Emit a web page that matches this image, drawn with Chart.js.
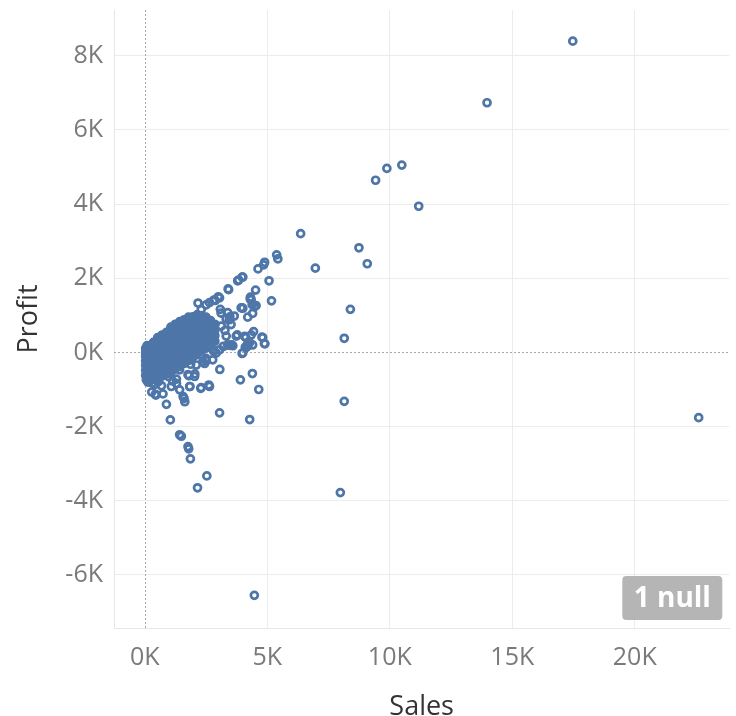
<!DOCTYPE html>
<html>
<head>
<meta charset="utf-8">
<script src="https://cdn.jsdelivr.net/npm/chart.js@4.4.0/dist/chart.umd.min.js"></script>
<style>
  html, body { margin: 0; padding: 0; background: #fff; }
  #wrap { width: 736px; height: 716px; }
</style>
</head>
<body>
<div id="wrap"><canvas id="chart" width="736" height="716"></canvas></div>
<script>
// axis ticks
const xTicks = [0, 5000, 10000, 15000, 20000]
const yTicks = [-6000, -4000, -2000, 0, 2000, 4000, 6000, 8000]
const nullCount = 1

// dense core near the origin: one sales value per column, profits listed for it
const coreSales = [30, 180, 350, 520, 700, 880, 1060, 1240, 1420, 1600, 1780, 1960, 2140, 2320, 2500, 2680, 2860]
const coreProfit = [
  [-620, -480, -350, -230, -110, 0, 110],
  [-700, -560, -430, -300, -170, -50, 70, 180],
  [-720, -590, -460, -330, -200, -80, 40, 160, 270],
  [-680, -550, -420, -290, -160, -40, 80, 200, 320, 400],
  [-640, -510, -380, -250, -120, 0, 120, 240, 360, 470],
  [-580, -450, -320, -190, -60, 60, 180, 300, 420, 540],
  [-520, -390, -260, -130, -10, 110, 230, 350, 470, 600, 680],
  [-450, -320, -190, -60, 60, 180, 300, 420, 540, 660, 760],
  [-380, -250, -120, 0, 120, 240, 360, 480, 600, 720, 830],
  [-300, -170, -40, 80, 200, 320, 440, 560, 680, 800, 880],
  [-220, -90, 30, 150, 270, 390, 510, 630, 750, 870, 950],
  [-130, -10, 110, 230, 350, 470, 590, 710, 830, 960],
  [-60, 60, 180, 300, 420, 540, 660, 780, 900, 1020],
  [40, 160, 280, 400, 520, 640, 760, 880, 990],
  [120, 240, 360, 480, 600, 720, 840, 950],
  [200, 330, 460, 590, 720, 860],
  [300, 450, 600, 760]
]

// scattered points around the core
const edgeSales = [
  2300, 2170, 2500, 2640, 2810, 3000, 3050, 2870, 3080, 3380,
  3110, 3650, 3450, 3320, 3470, 3520, 3120, 3270, 3770, 3730,
  3320, 3550, 3380, 3590, 3200, 3050, 2910, 2780, 2820, 2770,
  2640, 2500, 2370, 2100, 2440, 2510, 3930, 3970, 4000, 4380,
  4540, 4400, 4470, 4200, 4340, 4310, 4300, 3400, 3420, 3790,
  3830, 3970, 4000, 4520, 5170, 5070, 4620, 4850, 4890, 5380,
  5430, 4440, 4780, 4900, 4880, 4120, 4070, 4340, 4810, 4270,
  4190, 4130, 4100, 3970, 4000, 4200, 4400, 3460, 3060, 4390,
  3900, 4650, 2610, 2300, 2640, 1830, 1560, 1630, 1600, 1080,
  680, 450, 740, 880, 1290, 1040, 1420, 200, 270, 270,
  2030, 1760, 1800, 1870, 2040, 1290, 1130, 1420, 980, 1840,
  2280, 430, 280, 3050, 4280, 1040, 1420, 1490, 1760, 1790,
  1860, 2530, 2150, 60, 120, 90, 300, 420, 560
]
const edgeProfit = [
  1150, 1330, 1280, 1340, 1410, 1500, 1470, 1400, 1160, 1070,
  1060, 980, 880, 900, 960, 750, 710, 590, 470, 440,
  440, 200, 200, 180, 160, 70, -20, 60, 30, -200,
  160, -160, -250, -340, -300, -220, 1200, 1200, 1190, 1290,
  1260, 1050, 1230, 950, 1420, 1490, 1440, 1710, 1690, 1930,
  1950, 2030, 2030, 1680, 1390, 1930, 2250, 2360, 2430, 2630,
  2520, 560, 410, 230, 240, 400, 430, 470, 400, 260,
  210, 130, 140, -30, -10, 170, 200, 190, -460, -570,
  -740, -1000, -880, -950, -920, -920, -1190, -1330, -1240, -920,
  -900, -1150, -1120, -1400, -720, -560, -470, -740, -560, -730,
  -650, -600, -630, -320, -580, -840, -770, -1010, -660, -920,
  -970, -1130, -1070, -1630, -1810, -1820, -2220, -2260, -2540, -2600,
  -2870, -3330, -3650, -740, -800, 180, -830, -860, -790
]

// far outliers
const outlierSales = [4470, 7980, 8140, 22610, 8140, 8390, 6960, 9080, 8740, 6360, 9420, 9880, 10490, 11180, 13970, 17470]
const outlierProfit = [-6550, -3780, -1320, -1760, 380, 1160, 2270, 2390, 2820, 3200, 4640, 4960, 5050, 3940, 6730, 8390]

const corePoints = []
coreSales.forEach((s, i) => {
  coreProfit[i].forEach(p => corePoints.push({ x: s, y: p }))
})
const ringPoints = []
edgeSales.forEach((s, i) => ringPoints.push({ x: s, y: edgeProfit[i] }))
outlierSales.forEach((s, i) => ringPoints.push({ x: s, y: outlierProfit[i] }))

const markColor = '#4e76a8'

const zeroLines = {
  id: 'zeroLines',
  beforeDatasetsDraw(chart) {
    const { ctx, chartArea, scales } = chart
    const x0 = Math.round(scales.x.getPixelForValue(0)) + 0.5
    const y0 = Math.round(scales.y.getPixelForValue(0)) + 0.5
    ctx.save()
    ctx.strokeStyle = '#a8a8a8'
    ctx.lineWidth = 1
    ctx.setLineDash([2, 2])
    ctx.beginPath()
    ctx.moveTo(x0, chartArea.top)
    ctx.lineTo(x0, chartArea.bottom)
    ctx.moveTo(chartArea.left, y0)
    ctx.lineTo(chartArea.right, y0)
    ctx.stroke()
    ctx.restore()
  }
}

const nullBadge = {
  id: 'nullBadge',
  afterDraw(chart) {
    const { ctx, chartArea } = chart
    const w = 100, h = 44
    const x = chartArea.right - 7 - w
    const y = chartArea.bottom - 8 - h
    ctx.save()
    ctx.fillStyle = '#b5b5b5'
    ctx.beginPath()
    ctx.roundRect(x, y, w, h, 4)
    ctx.fill()
    ctx.fillStyle = '#ffffff'
    ctx.font = 'bold 28px "Open Sans"'
    ctx.textAlign = 'center'
    ctx.textBaseline = 'middle'
    ctx.fillText(nullCount + ' null', x + w / 2, y + h / 2 + 1)
    ctx.restore()
  }
}

const gridColor = ctx => (ctx.tick && ctx.tick.value === 0) ? 'rgba(0,0,0,0)' : '#ececec'
const kLabel = v => (v / 1000) + 'K'

new Chart(document.getElementById('chart'), {
  type: 'scatter',
  data: {
    datasets: [{
      label: 'core',
      data: corePoints,
      pointStyle: 'circle',
      pointRadius: 3.8,
      pointBorderWidth: 2,
      borderColor: markColor,
      backgroundColor: markColor
    }, {
      label: 'Profit',
      data: ringPoints,
      pointStyle: 'circle',
      pointRadius: 3.5,
      pointBorderWidth: 2.7,
      borderColor: markColor,
      backgroundColor: 'rgba(0,0,0,0)'
    }]
  },
  options: {
    responsive: false,
    animation: false,
    layout: { padding: { top: 10, right: 4, left: 0, bottom: 0 } },
    plugins: {
      legend: { display: false },
      tooltip: { enabled: false }
    },
    scales: {
      x: {
        type: 'linear',
        min: -1260,
        max: 23860,
        afterBuildTicks: scale => { scale.ticks = xTicks.map(v => ({ value: v })) },
        afterFit: scale => { scale.height = 88 },
        grid: { color: gridColor, drawTicks: false },
        border: { color: '#e6e6e6' },
        ticks: {
          callback: kLabel,
          color: '#7a7a7a',
          padding: 15,
          maxRotation: 0,
          font: { family: 'Open Sans', size: 25 }
        },
        title: {
          display: true,
          text: 'Sales',
          color: '#333333',
          padding: 0,
          font: { family: 'Open Sans', size: 27, lineHeight: 0.62 }
        }
      },
      y: {
        type: 'linear',
        min: -7430,
        max: 9230,
        afterBuildTicks: scale => { scale.ticks = yTicks.map(v => ({ value: v })) },
        afterFit: scale => {
          scale.width = 114
          scale.paddingTop = 0
          scale.paddingBottom = 0
        },
        grid: { color: gridColor, drawTicks: false },
        border: { color: '#e6e6e6' },
        ticks: {
          callback: kLabel,
          color: '#7a7a7a',
          padding: 11,
          font: { family: 'Open Sans', size: 25 }
        },
        title: {
          display: true,
          text: 'Profit',
          color: '#333333',
          padding: { top: 13, bottom: 0 },
          font: { family: 'Open Sans', size: 27 }
        }
      }
    }
  },
  plugins: [zeroLines, nullBadge]
})
</script>
</body>
</html>
